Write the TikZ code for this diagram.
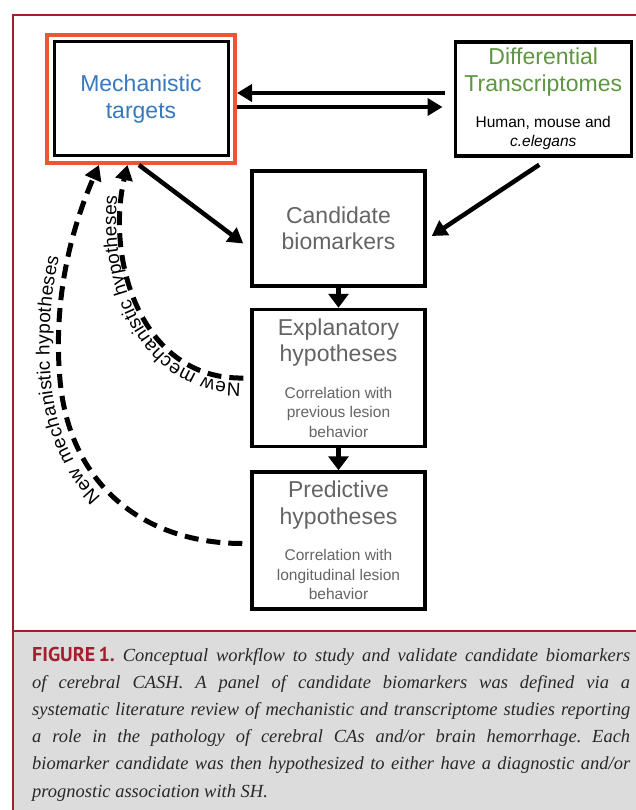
\documentclass[tikz,border=0pt]{standalone}
\usepackage{fontspec}
\setmainfont{Liberation Sans}
\newfontfamily\capserif{Liberation Serif}
\newfontfamily\figsans{PT Sans}
\usetikzlibrary{arrows.meta,positioning,fit,decorations.text}
\definecolor{framered}{RGB}{163,31,43}
\definecolor{capgray}{RGB}{220,220,220}
\definecolor{captiontext}{RGB}{40,40,40}
\definecolor{mechblue}{RGB}{55,120,190}
\definecolor{mechorange}{RGB}{234,88,45}
\definecolor{diffgreen}{RGB}{95,150,65}
\definecolor{stagegray}{RGB}{100,100,100}
\newcommand{\boxfont}{\fontsize{23}{26.5}\selectfont}
\newcommand{\notefont}{\fontsize{15.5}{18.5}\selectfont}
\newcommand{\curvefont}{\fontsize{19}{21}\selectfont}
\tikzstyle{box} = [draw=black, line width=3.5pt, minimum width=173pt, align=center, font=\boxfont, text=stagegray, inner sep=0pt]
\tikzstyle{arrow} = [line width=4.5pt, ->, >={Triangle[length=15pt,width=17pt]}]
\tikzstyle{steparrow} = [line width=4.5pt, ->, >={Triangle[length=14pt,width=20pt]}]
\tikzstyle{hyparrow} = [line width=5pt, dash pattern=on 14pt off 8pt, ->, >={Triangle[length=15pt,width=17pt]}]
\tikzstyle{captext} = [inner sep=0pt, text width=598pt, align=justify, text=captiontext, font=\capserif\itshape\fontsize{18.5}{27.2}\selectfont\frenchspacing]

\begin{document}
\begin{tikzpicture}[x=1pt,y=-1pt]
	\useasboundingbox[fill=white] (0,0) rectangle (636,810);
	% frame and caption panel
	\fill[capgray] (13,631) rectangle (636,810);
	\draw[framered, line width=2pt] (13,631) -- (636,631);
	\draw[framered, line width=2.5pt] (636,15) -- (13,15) -- (13,810);

	\node[box, line width=3pt, minimum width=174pt, minimum height=114pt, text=mechblue] (mech) at (141,99) {Mechanistic\\targets};
	\node[draw=mechorange, line width=4pt, inner sep=5.5pt, fit=(mech)] (mechframe) {};
	\node[box, minimum width=176pt, minimum height=114pt, text=diffgreen, right=224pt of mech] (diff) {Differential\\Transcriptomes\\[10pt]{\notefont\color{black}Human, mouse and}\\[-8pt]{\notefont\color{black}\itshape c.elegans}};
	\node[box, minimum height=115pt] (cand) at (338.5,228.5) {Candidate\\biomarkers};
	\node[box, minimum height=137pt, below=20pt of cand] (expl) {Explanatory\\hypotheses\\[10pt]{\notefont Correlation with}\\[-7pt]{\notefont previous lesion}\\[-7pt]{\notefont behavior}};
	\node[box, minimum height=137pt, below=22pt of expl] (pred) {Predictive\\hypotheses\\[10pt]{\notefont Correlation with}\\[-7pt]{\notefont longitudinal lesion}\\[-7pt]{\notefont behavior}};
	\coordinate (outerbend) at (60,380);

	\draw[arrow] ([shift={(-9,-6)}]diff.west) -- ([yshift=6pt]mechframe.east);
	\draw[arrow] ([yshift=-8pt]mechframe.east) -- ([shift={(-11,8)}]diff.west);
	\draw[arrow] ([xshift=-2pt]mechframe.south) -- ([shift={(-7,15)}]cand.west);
	\draw[arrow] ([shift={(-4,7)}]diff.south) -- ([shift={(5,7.5)}]cand.east);
	\draw[steparrow] (cand) -- (expl);
	\draw[steparrow] (expl) -- (pred);

	% new mechanistic hypotheses
	\draw[hyparrow] ([xshift=-7pt]expl.west) .. controls +(-103,2) and +(-22,93) .. ([xshift=-13.5pt]mechframe.south);
	\path[decorate, decoration={text along path, raise=5pt, text align={left, left indent=2pt}, text={|\curvefont|New mechanistic hypotheses}}] ([xshift=-7pt]expl.west) .. controls +(-103,2) and +(-22,93) .. ([xshift=-13.5pt]mechframe.south);
	\draw[hyparrow] ([shift={(-8,3)}]pred.west) .. controls +(-93,0) and +(10,110) .. (outerbend) .. controls +(-8,-90) and +(-23,53) .. ([xshift=-42pt]mechframe.south);
	\path[decorate, decoration={text along path, raise=9pt, text align={left, left indent=148pt}, text={|\curvefont|New mechanistic hypotheses}}] ([shift={(-8,3)}]pred.west) .. controls +(-93,0) and +(10,110) .. (outerbend) .. controls +(-8,-90) and +(-23,53) .. ([xshift=-42pt]mechframe.south);

	\node[captext, anchor=base west] (caption) at (32,661) {\mbox{\figsans\bfseries\upshape\fontsize{20}{27.2}\selectfont\color{framered}FIGURE\,1.}\hspace{8pt}Conceptual workflow to study and validate candidate biomarkers\linebreak of cerebral CASH. A panel of candidate biomarkers was defined via a\linebreak systematic literature review of mechanistic and transcriptome studies reporting\linebreak a role in the pathology of cerebral CAs and/or brain hemorrhage. Each\linebreak biomarker candidate was then hypothesized to either have a diagnostic and/or\linebreak prognostic association with SH.};
\end{tikzpicture}
\end{document}
